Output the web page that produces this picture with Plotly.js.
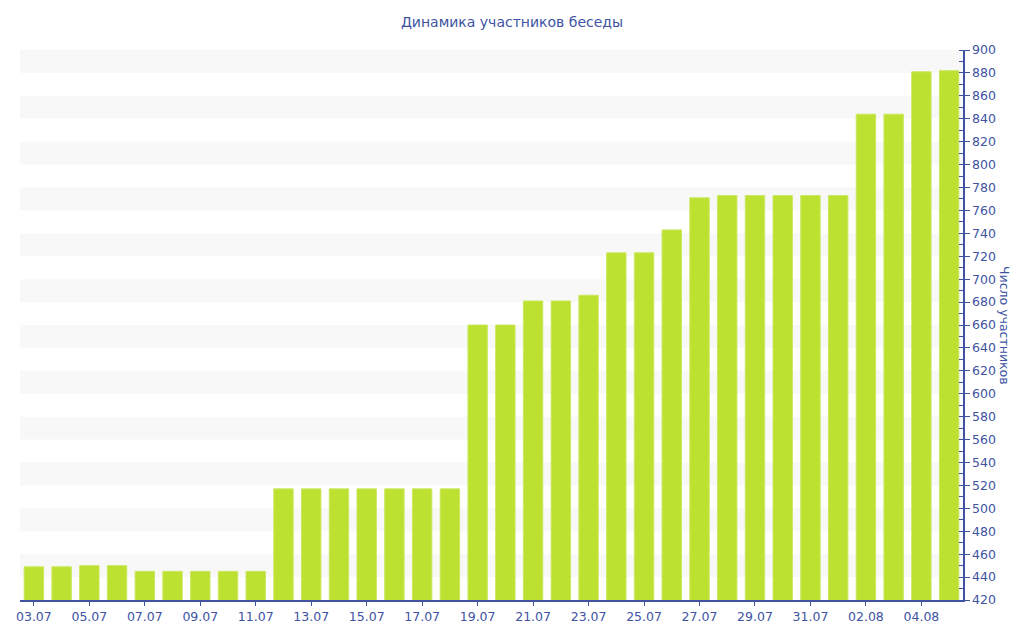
<!DOCTYPE html>
<html>
<head>
<meta charset="utf-8">
<script src="https://cdn.plot.ly/plotly-3.0.1.min.js"></script>
<style>html,body{margin:0;padding:0;background:#fff;}#chart{width:1024px;height:640px;}</style>
</head>
<body>
<div id="chart"></div>
<script>
const dates = ["03.07","04.07","05.07","06.07","07.07","08.07","09.07","10.07","11.07","12.07",
  "13.07","14.07","15.07","16.07","17.07","18.07","19.07","20.07","21.07","22.07",
  "23.07","24.07","25.07","26.07","27.07","28.07","29.07","30.07","31.07","01.08",
  "02.08","03.08","04.08","05.08"];
const members = [449,449,450,450,445,445,445,445,445,517,
  517,517,517,517,517,517,660,660,681,681,
  686,723,723,743,771,773,773,773,773,773,
  844,844,881,882];
const tickLabels = dates.filter((d,i)=>i%2===0);
const chartTitle = "Динамика участников беседы";
const yTitle = "Число участников";
const bandStarts = [440,480,520,560,600,640,680,720,760,800,840,880];

const blue = "#4053a3";
const shapes = bandStarts.map(b=>({type:"rect",xref:"paper",yref:"y",x0:0,x1:1,y0:b,y1:b+20,
  fillcolor:"#f8f8f8",line:{width:0},layer:"below"}));

Plotly.newPlot("chart",[{
  type:"bar", x:dates, y:members,
  marker:{color:"#bde131",line:{color:"#cbe862",width:1}},
  hoverinfo:"x+y"
}],{
  width:1024,height:640,
  margin:{l:20,r:61,t:50,b:40},
  paper_bgcolor:"#fff",plot_bgcolor:"rgba(0,0,0,0)",
  font:{family:"DejaVu Sans, Verdana, sans-serif",color:blue,size:12.5},
  title:{text:chartTitle,x:0.5,xanchor:"center",y:0.965,yanchor:"middle",
    font:{size:14,color:blue,family:"DejaVu Sans, Verdana, sans-serif"}},
  bargap:0.3,
  showlegend:false,
  xaxis:{type:"category",tickmode:"array",tickvals:tickLabels,ticktext:tickLabels,
    showgrid:false,showline:true,linecolor:blue,linewidth:1.5,ticks:"outside",ticklen:4,tickcolor:blue,
    tickfont:{size:12.5,color:blue},zeroline:false,fixedrange:true},
  yaxis:{side:"right",range:[420,900],dtick:20,showgrid:false,zeroline:false,
    showline:true,linecolor:blue,linewidth:1.5,ticks:"outside",ticklen:5,tickcolor:blue,
    minor:{dtick:10,ticks:"inside",ticklen:4,tickcolor:blue,showgrid:false},
    tickfont:{size:12.5,color:blue}},
  shapes:shapes,
  annotations:[{text:yTitle,xref:"paper",yref:"paper",x:1,xshift:42,y:0.5,textangle:90,
    showarrow:false,xanchor:"center",yanchor:"middle",font:{size:12.5,color:blue}}]
},{displayModeBar:false,staticPlot:true});
</script>
</body>
</html>
